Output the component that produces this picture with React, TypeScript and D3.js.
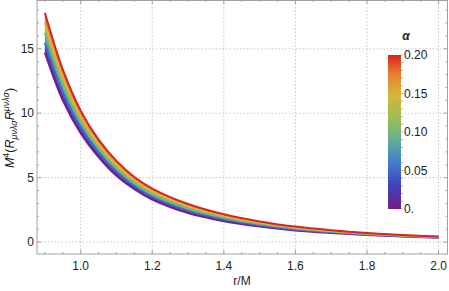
import React from 'react';
import * as d3 from 'd3';

// r/M sample points and the curvature for each alpha
const rVals = [0.9, 0.95, 1.0, 1.05, 1.1, 1.15, 1.2, 1.3, 1.4, 1.5, 1.6, 1.7, 1.8, 1.9, 2.0];
const alphaVals = [0, 0.05, 0.1, 0.15, 0.2];
const kAlpha000 = [14.7, 11.0, 8.45, 6.6, 5.15, 4.1, 3.3, 2.25, 1.62, 1.2, 0.9, 0.7, 0.54, 0.42, 0.33];
const kAlpha005 = [15.45, 11.6, 8.9, 6.95, 5.45, 4.35, 3.5, 2.42, 1.75, 1.3, 0.97, 0.75, 0.58, 0.45, 0.35];
const kAlpha010 = [16.25, 12.2, 9.3, 7.25, 5.7, 4.55, 3.7, 2.6, 1.88, 1.4, 1.05, 0.81, 0.62, 0.48, 0.37];
const kAlpha015 = [17.0, 12.8, 9.75, 7.6, 6.0, 4.8, 3.95, 2.78, 2.02, 1.5, 1.12, 0.86, 0.66, 0.51, 0.4];
const kAlpha020 = [17.8, 13.4, 10.2, 7.95, 6.3, 5.05, 4.15, 2.95, 2.15, 1.6, 1.2, 0.92, 0.7, 0.54, 0.42];
const series = [kAlpha000, kAlpha005, kAlpha010, kAlpha015, kAlpha020];

const xTicks = [1.0, 1.2, 1.4, 1.6, 1.8, 2.0];
const yTicks = [0, 5, 10, 15];
const barTicks = [0, 0.05, 0.1, 0.15, 0.2];
const barLabels = ['0.', '0.05', '0.10', '0.15', '0.20'];

// Mathematica-like "Rainbow" gradient
const rainbowStops = [0, 0.15, 0.3, 0.45, 0.6, 0.75, 0.88, 1];
const rainbowColors = ['#781c86', '#4140be', '#3f7dcd', '#64af96', '#a0be50', '#d7b43c', '#e67d2d', '#da2323'];

const W = 449;
const H = 291;
const font = "'Liberation Sans', Arial, sans-serif";

export default function App() {
  const x = d3.scaleLinear().domain([0.878, 2.025]).range([37, 447.5]);
  const y = d3.scaleLinear().domain([-0.93, 18.79]).range([254, 0]);
  const rainbow = d3.scaleLinear<string>().domain(rainbowStops).range(rainbowColors).interpolate(d3.interpolateRgb);
  const color = (a: number) => rainbow(a / 0.2);

  const line = d3.line<number>()
    .x((_, i) => x(rVals[i]))
    .y((d) => y(d))
    .curve(d3.curveCatmullRom);

  const band = (lo: number[], hi: number[]) =>
    d3.area<number>()
      .x((_, i) => x(rVals[i]))
      .y0((_, i) => y(lo[i]))
      .y1((_, i) => y(hi[i]))
      .curve(d3.curveCatmullRom)(rVals);

  const [left, right] = x.range();
  const [bottom, top] = y.range();

  const xMinor = d3.range(0.9, 2.0001, 0.05).filter((v) => !xTicks.some((t) => Math.abs(t - v) < 1e-6));
  const yMinor = d3.range(0, 19, 1).filter((v) => v % 5 !== 0);

  const bar = d3.scaleLinear().domain([0, 0.2]).range([209, 55]);
  const barMinor = d3.range(0, 0.2001, 0.01);

  return (
    <svg width={W} height={H} style={{ position: 'absolute', left: 0, top: 0 }} fontFamily={font}>
      <defs>
        <linearGradient id="rb" x1="0" y1="1" x2="0" y2="0">
          {rainbowStops.map((s, i) => (
            <stop key={i} offset={s} stopColor={rainbowColors[i]} />
          ))}
        </linearGradient>
        <clipPath id="plot">
          <rect x={left} y={top} width={right - left} height={bottom - top} />
        </clipPath>
      </defs>

      {/* grid */}
      <g stroke="#c8c8c8" strokeWidth={1} strokeDasharray="1.5,2">
        {xTicks.map((t) => (
          <line key={t} x1={x(t)} x2={x(t)} y1={top} y2={bottom} />
        ))}
        {yTicks.map((t) => (
          <line key={t} x1={left} x2={right} y1={y(t)} y2={y(t)} />
        ))}
      </g>

      {/* curves */}
      <g clipPath="url(#plot)">
        {series.slice(0, -1).map((s, i) => (
          <path key={'b' + i} d={band(s, series[i + 1]) || ''}
            fill={color((alphaVals[i] + alphaVals[i + 1]) / 2)} stroke="none" />
        ))}
        {series.map((s, i) => (
          <path key={'l' + i} d={line(s) || ''} fill="none" stroke={color(alphaVals[i])}
            strokeWidth={2} />
        ))}
      </g>

      {/* frame and ticks */}
      <rect x={left} y={top + 0.5} width={right - left} height={bottom - top - 0.5}
        fill="none" stroke="#a0a0a0" strokeWidth={1} />
      <g stroke="#a0a0a0" strokeWidth={1}>
        {xTicks.map((t) => (
          <g key={t}>
            <line x1={x(t)} x2={x(t)} y1={bottom} y2={bottom - 4} />
            <line x1={x(t)} x2={x(t)} y1={top} y2={top + 4} />
          </g>
        ))}
        {xMinor.map((t) => (
          <g key={t}>
            <line x1={x(t)} x2={x(t)} y1={bottom} y2={bottom - 2} />
            <line x1={x(t)} x2={x(t)} y1={top} y2={top + 2} />
          </g>
        ))}
        {yTicks.map((t) => (
          <g key={t}>
            <line x1={left} x2={left + 4} y1={y(t)} y2={y(t)} />
            <line x1={right} x2={right - 4} y1={y(t)} y2={y(t)} />
          </g>
        ))}
        {yMinor.map((t) => (
          <g key={t}>
            <line x1={left} x2={left + 2} y1={y(t)} y2={y(t)} />
            <line x1={right} x2={right - 2} y1={y(t)} y2={y(t)} />
          </g>
        ))}
      </g>

      {/* tick labels */}
      <g fontSize={12} fill="#222">
        {xTicks.map((t) => (
          <text key={t} x={x(t)} y={270} textAnchor="middle">{t.toFixed(1)}</text>
        ))}
        {yTicks.map((t) => (
          <text key={t} x={34} y={y(t)} textAnchor="end" dominantBaseline="central">{t}</text>
        ))}
      </g>

      {/* axis titles */}
      <text x={242} y={285} textAnchor="middle" fontSize={12} fill="#222">r/M</text>
      <text transform="translate(13.5,128) rotate(-90)" textAnchor="middle" fontSize={12.5} fill="#222">
        <tspan fontStyle="italic">M</tspan>
        <tspan fontSize={9} dy={-5}>4</tspan>
        <tspan dy={5}>(</tspan>
        <tspan fontStyle="italic">R</tspan>
        <tspan fontSize={9} fontStyle="italic" dy={3}>μνλσ</tspan>
        <tspan fontStyle="italic" dy={-3}>R</tspan>
        <tspan fontSize={9} fontStyle="italic" dy={-5}>μνλσ</tspan>
        <tspan dy={5}>)</tspan>
      </text>

      {/* colour bar legend */}
      <rect x={388} y={bar(0.2)} width={13} height={bar(0) - bar(0.2)} fill="url(#rb)" />
      <g stroke="#b0b0b0" strokeWidth={1}>
        {barMinor.map((t, i) => (
          <line key={i} x1={401} x2={403} y1={bar(t)} y2={bar(t)} />
        ))}
      </g>
      <g fontSize={12} fill="#222">
        {barTicks.map((t, i) => (
          <text key={t} x={404} y={bar(t)} dominantBaseline="central">{barLabels[i]}</text>
        ))}
      </g>
      <text x={406} y={40} textAnchor="middle" fontSize={12} fontStyle="italic" fontWeight="bold" fill="#222">α</text>
    </svg>
  );
}
